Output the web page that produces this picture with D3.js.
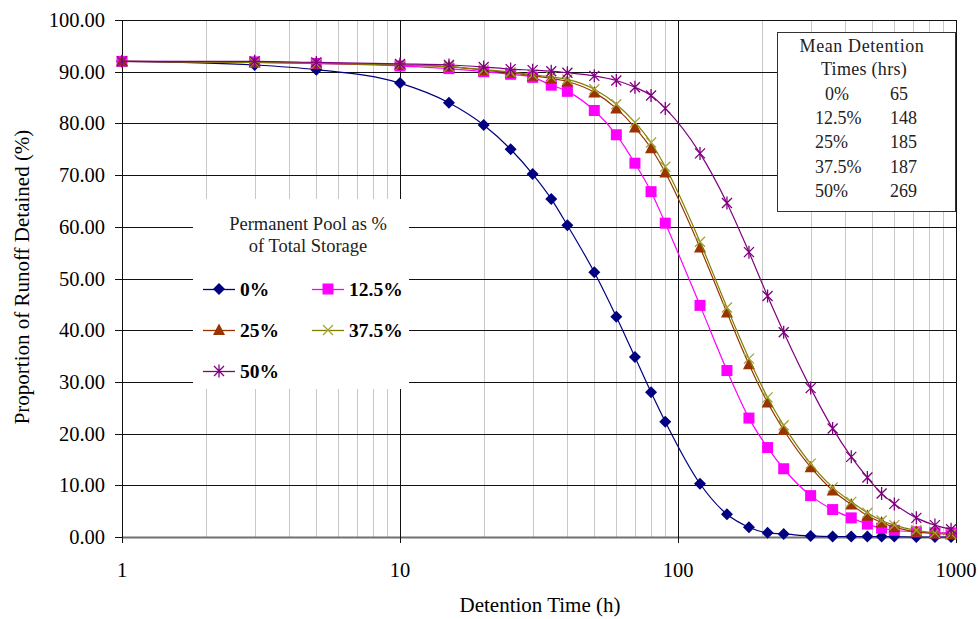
<!DOCTYPE html>
<html>
<head>
<meta charset="utf-8">
<script src="https://cdn.jsdelivr.net/npm/d3@7"></script>
<style>
  html, body { margin: 0; padding: 0; background: #fff; }
  svg { display: block; }
  text { font-family: "Liberation Serif", "Times New Roman", serif; fill: #000; }
</style>
</head>
<body>
<svg id="chart" width="978" height="619"></svg>
<script>
// ---------------- DATA ----------------
const hours = [1,3,5,10,15,20,25,30,35,40,50,60,70,80,90,120,150,180,210,240,300,360,420,480,540,600,720,840,960];
const pool0   = [92.0,91.3,90.4,87.8,84.0,79.7,75.0,70.2,65.4,60.3,51.2,42.6,34.8,28.0,22.3,10.3,4.4,1.9,0.8,0.6,0.2,0.1,0.1,0.1,0.1,0.1,0.0,0.0,0.0];
const pool125 = [92.0,91.9,91.6,91.1,90.6,90.0,89.5,88.9,87.4,86.2,82.5,77.8,72.3,66.8,60.7,44.8,32.2,23.0,17.3,13.2,8.0,5.3,3.7,2.5,1.7,1.3,1.0,0.8,0.8];
const pool25  = [92.0,91.8,91.6,91.3,91.0,90.3,89.8,89.2,88.7,88.1,86.0,82.9,79.2,75.2,70.5,56.0,43.4,33.4,26.0,20.7,13.5,9.0,6.3,4.1,2.8,1.9,1.0,0.7,0.5];
const pool375 = [92.0,91.8,91.6,91.3,91.0,90.4,89.9,89.4,89.0,88.5,86.6,83.7,80.2,76.3,71.6,57.1,44.4,34.5,27.0,21.6,14.2,9.6,6.8,4.7,3.2,2.3,1.3,0.8,0.6];
const pool50  = [92.0,92.0,91.8,91.5,91.3,90.9,90.5,90.3,90.1,89.8,89.2,88.3,87.0,85.4,82.9,74.2,64.6,55.1,46.6,39.6,28.8,21.0,15.5,11.5,8.4,6.4,3.7,2.3,1.5];

const seriesNames = ["0%","12.5%","25%","37.5%","50%"];
const seriesValues = [pool0, pool125, pool25, pool375, pool50];
const seriesColors = ["#000080","#ff00ff","#993300","#808000","#800080"];
const markerColors = ["#000080","#ff00ff","#993300","#a3a33a","#800080"];
const markerKinds = ["diamond","square","triangle","cross","asterisk"];

const meanLabels = ["0%","12.5%","25%","37.5%","50%"];
const meanValues = [65,148,185,187,269];

const yTicks = [0,10,20,30,40,50,60,70,80,90,100];
const xTicks = [1,10,100,1000];

// ---------------- LAYOUT ----------------
const svg = d3.select("#chart");
const L = 122, R = 956, T = 20, B = 537;
const x = d3.scaleLog().domain([1,1000]).range([L,R]);
const y = d3.scaleLinear().domain([0,100]).range([B,T]);
const px = v => Math.round(v) + 0.5;

const grid = svg.append("g");
// minor vertical gridlines
const minor = [];
for (let d = 1; d < 1000; d *= 10) for (let k = 2; k <= 9; k++) minor.push(d*k);
grid.selectAll(".minor").data(minor).enter().append("line")
  .attr("x1", d => px(x(d))).attr("x2", d => px(x(d)))
  .attr("y1", T).attr("y2", B)
  .attr("stroke", "#c8c8c8").attr("stroke-width", 1);
// horizontal gridlines
grid.selectAll(".hg").data(yTicks).enter().append("line")
  .attr("x1", L).attr("x2", R+1)
  .attr("y1", d => px(y(d))).attr("y2", d => px(y(d)))
  .attr("stroke", d => d === 0 ? "#707070" : "#111").attr("stroke-width", d => d === 0 ? 2 : 1);
// major vertical gridlines + ticks
grid.selectAll(".mg").data(xTicks).enter().append("line")
  .attr("x1", d => px(x(d))).attr("x2", d => px(x(d)))
  .attr("y1", T).attr("y2", B + 6)
  .attr("stroke", "#111").attr("stroke-width", 1);
// y ticks
grid.selectAll(".yt").data(yTicks).enter().append("line")
  .attr("x1", L - 7).attr("x2", L)
  .attr("y1", d => px(y(d))).attr("y2", d => px(y(d)))
  .attr("stroke", "#111");

// tick labels
svg.append("g").selectAll("text").data(yTicks).enter().append("text")
  .attr("x", 105).attr("y", d => y(d) + 7)
  .attr("text-anchor", "end").attr("font-size", "20.5px")
  .text(d => d3.format(".2f")(d));
svg.append("g").selectAll("text").data(xTicks).enter().append("text")
  .attr("x", d => x(d)).attr("y", 577)
  .attr("text-anchor", "middle").attr("font-size", "20.5px")
  .text(d => d);

// axis titles
svg.append("text").attr("x", 540).attr("y", 612).attr("text-anchor", "middle")
  .attr("font-size", "21px").text("Detention Time (h)");
svg.append("text").attr("transform", "translate(29,277) rotate(-90)")
  .attr("text-anchor", "middle").attr("font-size", "21px")
  .text("Proportion of Runoff Detained (%)");

// ---------------- MARKERS ----------------
function drawMarker(g, kind, color) {
  if (kind === "diamond") {
    g.append("path").attr("d", "M0,-6L6,0L0,6L-6,0Z").attr("fill", color);
  } else if (kind === "square") {
    g.append("rect").attr("x", -5.5).attr("y", -5.5).attr("width", 11).attr("height", 11).attr("fill", color);
  } else if (kind === "triangle") {
    g.append("path").attr("d", "M0,-6.5L6,5L-6,5Z").attr("fill", color);
  } else if (kind === "cross") {
    g.append("path").attr("d", "M-5,-5L5,5M-5,5L5,-5").attr("stroke", color).attr("stroke-width", 1.3).attr("fill", "none");
  } else if (kind === "asterisk") {
    g.append("path").attr("d", "M-5,-5L5,5M-5,5L5,-5M0,-6.5L0,6.5").attr("stroke", color).attr("stroke-width", 1.3).attr("fill", "none");
  }
}

const line = d3.line().curve(d3.curveMonotoneX);
seriesValues.forEach((vals, i) => {
  const pts = hours.map((h, j) => [x(h), y(vals[j])]);
  const g = svg.append("g");
  g.append("path").attr("d", line(pts)).attr("fill", "none")
    .attr("stroke", seriesColors[i]).attr("stroke-width", 1.2);
  pts.forEach(p => {
    const mg = g.append("g").attr("transform", `translate(${p[0]},${p[1]})`);
    drawMarker(mg, markerKinds[i], markerColors[i]);
  });
});

// ---------------- LEGEND (series) ----------------
const lg = svg.append("g");
lg.append("rect").attr("x", 193).attr("y", 199).attr("width", 216).attr("height", 190).attr("fill", "#fff");
lg.append("text").attr("x", 308).attr("y", 230).attr("text-anchor", "middle").attr("font-size", "18.5px").style("fill", "#222").text("Permanent Pool as %");
lg.append("text").attr("x", 308).attr("y", 252).attr("text-anchor", "middle").attr("font-size", "18.5px").style("fill", "#222").text("of Total Storage");
const legPos = [[203,289],[312,289],[203,330],[312,330],[203,371]];
seriesNames.forEach((name, i) => {
  const [lx, ly] = legPos[i];
  lg.append("line").attr("x1", lx).attr("x2", lx + 32).attr("y1", ly + 0.5).attr("y2", ly + 0.5)
    .attr("stroke", seriesColors[i]).attr("stroke-width", 1.3);
  const mg = lg.append("g").attr("transform", `translate(${lx + 16},${ly})`);
  drawMarker(mg, markerKinds[i], markerColors[i]);
  lg.append("text").attr("x", lx + 37).attr("y", ly + 7).attr("font-size", "19.5px").attr("font-weight", "bold").text(name);
});

// ---------------- MEAN DETENTION BOX ----------------
const mb = svg.append("g");
mb.append("rect").attr("x", 777.5).attr("y", 32.5).attr("width", 178).attr("height", 179)
  .attr("fill", "#fff").attr("stroke", "#333").attr("stroke-width", 1);
mb.append("text").attr("x", 862).attr("y", 52).attr("text-anchor", "middle").attr("font-size", "18px").style("letter-spacing", "0.6px").style("fill", "#222").text("Mean Detention");
mb.append("text").attr("x", 864).attr("y", 75).attr("text-anchor", "middle").attr("font-size", "18px").style("letter-spacing", "0.3px").style("fill", "#222").text("Times (hrs)");
meanLabels.forEach((lab, i) => {
  const yy = 100 + i * 24.2;
  mb.append("text").attr("x", i === 0 ? 825 : 815).attr("y", yy).attr("font-size", "18px").style("fill", "#222").text(lab);
  mb.append("text").attr("x", 890).attr("y", yy).attr("font-size", "18px").style("fill", "#222").text(meanValues[i]);
});
</script>
</body>
</html>
